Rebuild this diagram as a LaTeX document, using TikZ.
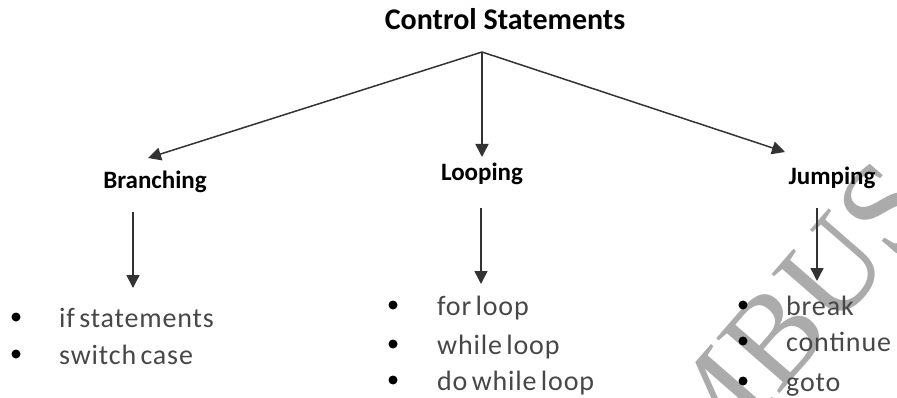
\documentclass[tikz,border=0pt]{standalone}
\usepackage{fontspec}
\setmainfont{Carlito}
\newfontfamily\itemfont{Carlito}[LetterSpace=3,WordSpace=0.6]
\newfontfamily\wmfont{Liberation Serif}
\usetikzlibrary{arrows.meta}

\begin{document}
\begin{tikzpicture}[x=1pt,y=-1pt,
  conn/.style={draw=black!80, line width=1.5pt, -{Triangle[width=13pt,length=13pt]}},
  title/.style={font=\bfseries\fontsize{30}{35}\selectfont, inner sep=0pt, anchor=base},
  head/.style={font=\bfseries\fontsize{25}{30}\selectfont, inner sep=0pt, anchor=base},
  item/.style={font=\itemfont\fontsize{28}{33}\selectfont, text=black!72, inner sep=0pt, anchor=base west},
  dot/.style={circle, fill=black, minimum size=9pt, inner sep=0pt},
  mark text/.style={font=\wmfont\fontsize{128}{128}\selectfont, text=black!33, inner sep=0pt, rotate=49},
]
\useasboundingbox (0,0) rectangle (897,398);

% faint background lettering
\begin{scope}
  \clip (0,0) rectangle (897,398);
  \node[mark text] (wm) at (790,318) {MBUS};
\end{scope}

% root
\node[title] (root) at (505,30) {Control Statements};
\coordinate (apex) at (482,52);

% categories
\node[head] (branch) at (155,189) {Branching};
\node[head] (loop) at (482,181) {Looping};
\node[head] (jump) at (832,185) {Jumping};

% arrow end points
\coordinate (bIn) at (148,158);
\coordinate (lIn) at (482,157);
\coordinate (jIn) at (785,152);
\coordinate (bOut) at (133,212);
\coordinate (bList) at (133,288);
\coordinate (lOut) at (481,208);
\coordinate (lList) at (481,284);
\coordinate (jOut) at (817,208);
\coordinate (jList) at (817,281);

\draw[conn] (apex) -- (bIn);
\draw[conn] (apex) -- (lIn);
\draw[conn] (apex) -- (jIn);
\draw[conn] (bOut) -- (bList);
\draw[conn] (lOut) -- (lList);
\draw[conn] (jOut) -- (jList);

% branching list
\node[dot] (b1) at (16,317) {};
\node[dot] (b2) at (16,354) {};
\node[item] (bt1) at (59,327) {if statements};
\node[item] (bt2) at (59,364) {switch case};

% looping list
\node[dot] (l1) at (393,305) {};
\node[dot] (l2) at (393,344) {};
\node[dot] (l3) at (393,380) {};
\node[item] (lt1) at (437,315) {for loop};
\node[item] (lt2) at (437,354) {while loop};
\node[item] (lt3) at (437,390) {do while loop};

% jumping list
\node[dot] (j1) at (743,305) {};
\node[dot] (j2) at (743,341) {};
\node[dot] (j3) at (743,381) {};
\node[item] (jt1) at (786,315) {break};
\node[item] (jt2) at (786,351) {continue};
\node[item] (jt3) at (786,391) {goto};
\end{tikzpicture}
\end{document}
